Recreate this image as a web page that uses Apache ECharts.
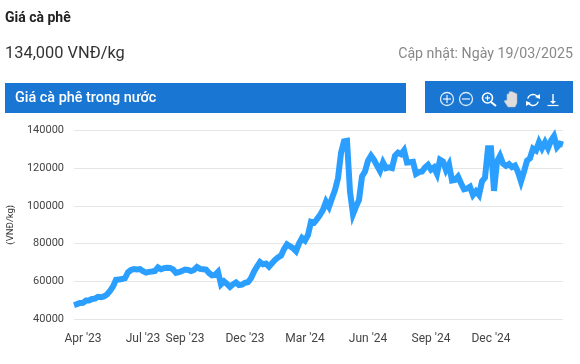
<!DOCTYPE html>
<html>
<head>
<meta charset="utf-8">
<style>
html, body { margin: 0; padding: 0; background: #fff; }
#chart { width: 580px; height: 364px; }
</style>
<script src="https://cdn.jsdelivr.net/npm/echarts@6/dist/echarts.min.js"></script>
</head>
<body>
<div id="chart"></div>
<script>
var myChart = echarts.init(document.getElementById('chart'));

// gia ca phe, doc tu hinh (nghin VND/kg), moi diem cach nhau khoang 4.5 ngay
var prices = [
    47.4, 47.9, 48.5, 48.6, 49.8, 49.8, 50.6, 50.8, 51.8, 51.6, 52.0, 53.0, 54.9, 57.2, 60.8, 61.0,
    61.2, 61.6, 64.8, 66.0, 66.5, 66.3, 66.5, 65.4, 64.6, 65.0, 65.2, 65.5, 67.4, 66.4, 67.0, 67.2,
    67.1, 66.3, 64.4, 64.8, 65.5, 66.2, 66.0, 65.4, 66.0, 67.6, 66.6, 66.4, 66.2, 64.4, 63.2, 63.4,
    65.0, 58.4, 60.0, 58.6, 57.0, 58.4, 59.4, 58.0, 58.2, 59.2, 59.6, 61.6, 65.1, 67.8, 70.2, 69.0,
    69.4, 67.8, 69.6, 71.3, 72.6, 73.6, 77.0, 79.6, 78.6, 77.6, 76.0, 80.0, 83.0, 81.6, 84.6, 91.5,
    91.0, 93.0, 95.2, 97.9, 102.2, 99.5, 104.0, 108.5, 114.7, 128.0, 134.2, 134.5, 107.6, 95.6, 99.6, 103.2,
    115.6, 118.2, 124.0, 126.6, 124.4, 121.4, 118.5, 123.0, 120.0, 120.4, 120.0, 126.6, 128.2, 127.4, 129.5, 123.0,
    123.2, 123.4, 117.0, 117.9, 118.2, 120.4, 121.8, 119.2, 120.4, 117.0, 124.5, 123.5, 119.0, 122.0, 113.5, 113.8,
    115.5, 112.0, 108.8, 109.2, 110.2, 105.8, 107.8, 105.8, 113.0, 115.0, 130.6, 130.6, 108.0, 123.5, 126.6, 122.4,
    121.2, 122.2, 120.6, 121.4, 118.0, 113.0, 118.2, 124.0, 125.3, 130.4, 129.4, 133.8, 130.6, 133.8, 130.6, 134.6,
    137.0, 131.2, 133.0, 132.5
];
var monthLabels = ["Apr '23", "Jul '23", "Sep '23", "Dec '23", "Mar '24", "Jun '24", "Sep '24", "Dec '24"];
var monthIndex = [3, 23, 37, 57, 77, 98, 119, 139];

// truc category: chi cac diem dau thang moi co nhan
var categories = prices.map(function (v, i) {
    var k = monthIndex.indexOf(i);
    return k >= 0 ? monthLabels[k] : '';
});

var FONT = 'Roboto';
var iconStroke = { stroke: '#fff', fill: 'none', lineWidth: 1.3, opacity: 0.85 };

option = {
    animation: false,
    textStyle: { fontFamily: FONT },
    grid: { left: 74, right: 17, top: 130.5, height: 188.5, outerBoundsMode: 'none' },
    xAxis: {
        type: 'category',
        boundaryGap: false,
        data: categories,
        axisLine: { show: false },
        axisTick: { show: false },
        axisLabel: {
            interval: 0,
            hideOverlap: false,
            color: '#444',
            fontSize: 12,
            fontFamily: FONT,
            margin: 14
        }
    },
    yAxis: {
        type: 'value',
        min: 40000,
        max: 140000,
        interval: 20000,
        name: '(VNĐ/kg)',
        nameLocation: 'middle',
        nameGap: 54,
        nameTextStyle: { fontSize: 9.5, color: '#333', fontFamily: FONT },
        axisLine: { show: false },
        axisTick: { show: false },
        axisLabel: {
            color: '#444',
            fontSize: 11,
            fontFamily: FONT,
            margin: 10,
            formatter: function (value) {
                return String(value);
            }
        },
        splitLine: { lineStyle: { color: '#e6e6e6', width: 1 } }
    },
    series: [
        {
            type: 'line',
            data: prices.map(function (v) { return v * 1000; }),
            showSymbol: false,
            clip: false,
            lineStyle: { color: '#2a9fff', width: 6, join: 'miter' }
        }
    ],
    graphic: [
        { type: 'text', x: 5, y: 11, style: { text: 'Giá cà phê', font: 'bold 14px Roboto', fill: '#222' } },
        { type: 'text', x: 5, y: 46, style: { text: '134,000 VNĐ/kg', font: '16.4px Roboto', fill: '#333' } },
        { type: 'text', x: 573, y: 47, style: { text: 'Cập nhật: Ngày 19/03/2025', font: '14.2px Roboto', fill: '#888', textAlign: 'right' } },
        { type: 'rect', shape: { x: 5, y: 83, width: 401, height: 30 }, style: { fill: '#1976d2' } },
        { type: 'text', x: 15, y: 91, style: { text: 'Giá cà phê trong nước', font: '500 14.4px Roboto', fill: '#fff' } },
        { type: 'rect', shape: { x: 425, y: 81, width: 148, height: 32 }, style: { fill: '#1976d2' } },
        // zoom in
        { type: 'circle', shape: { cx: 447, cy: 99, r: 6.5 }, style: iconStroke },
        { type: 'line', shape: { x1: 443, y1: 99, x2: 451, y2: 99 }, style: iconStroke },
        { type: 'line', shape: { x1: 447, y1: 95, x2: 447, y2: 103 }, style: iconStroke },
        // zoom out
        { type: 'circle', shape: { cx: 466, cy: 99, r: 6.5 }, style: iconStroke },
        { type: 'line', shape: { x1: 462, y1: 99, x2: 470, y2: 99 }, style: iconStroke },
        // kinh lup
        { type: 'circle', shape: { cx: 487.5, cy: 98, r: 5 }, style: { stroke: '#fff', fill: 'none', lineWidth: 1.6 } },
        { type: 'line', shape: { x1: 491, y1: 102, x2: 496, y2: 106 }, style: { stroke: '#fff', lineWidth: 2 } },
        { type: 'line', shape: { x1: 485, y1: 98, x2: 490, y2: 98 }, style: { stroke: '#fff', lineWidth: 1.2 } },
        { type: 'line', shape: { x1: 487.5, y1: 95.5, x2: 487.5, y2: 100.5 }, style: { stroke: '#fff', lineWidth: 1.2 } },
        // ban tay
        {
            type: 'polygon',
            shape: { points: [[504, 101], [507, 100], [507, 94], [509, 94], [509, 92], [511, 91.5], [513, 92], [515, 93], [517, 94], [517, 103], [515, 107], [508, 107]] },
            style: { fill: '#ddd', stroke: '#bbb', lineWidth: 0.5 }
        },
        // lam moi
        { type: 'arc', shape: { cx: 533, cy: 100, r: 5.5, startAngle: 3.4, endAngle: 5.6 }, style: { stroke: '#fff', fill: 'none', lineWidth: 1.4 } },
        { type: 'arc', shape: { cx: 533, cy: 100, r: 5.5, startAngle: 0.3, endAngle: 2.5 }, style: { stroke: '#fff', fill: 'none', lineWidth: 1.4 } },
        { type: 'polygon', shape: { points: [[535, 97], [540, 94], [540, 99]] }, style: { fill: '#fff' } },
        { type: 'polygon', shape: { points: [[531, 103], [526, 106], [526, 101]] }, style: { fill: '#fff' } },
        // tai xuong
        { type: 'line', shape: { x1: 553, y1: 94, x2: 553, y2: 103 }, style: { stroke: '#fff', lineWidth: 1.4 } },
        { type: 'polygon', shape: { points: [[550, 101], [556, 101], [553, 104]] }, style: { fill: '#fff' } },
        { type: 'line', shape: { x1: 547.5, y1: 105.5, x2: 558.5, y2: 105.5 }, style: { stroke: '#fff', lineWidth: 1.2 } }
    ]
};
myChart.setOption(option);
</script>
</body>
</html>
